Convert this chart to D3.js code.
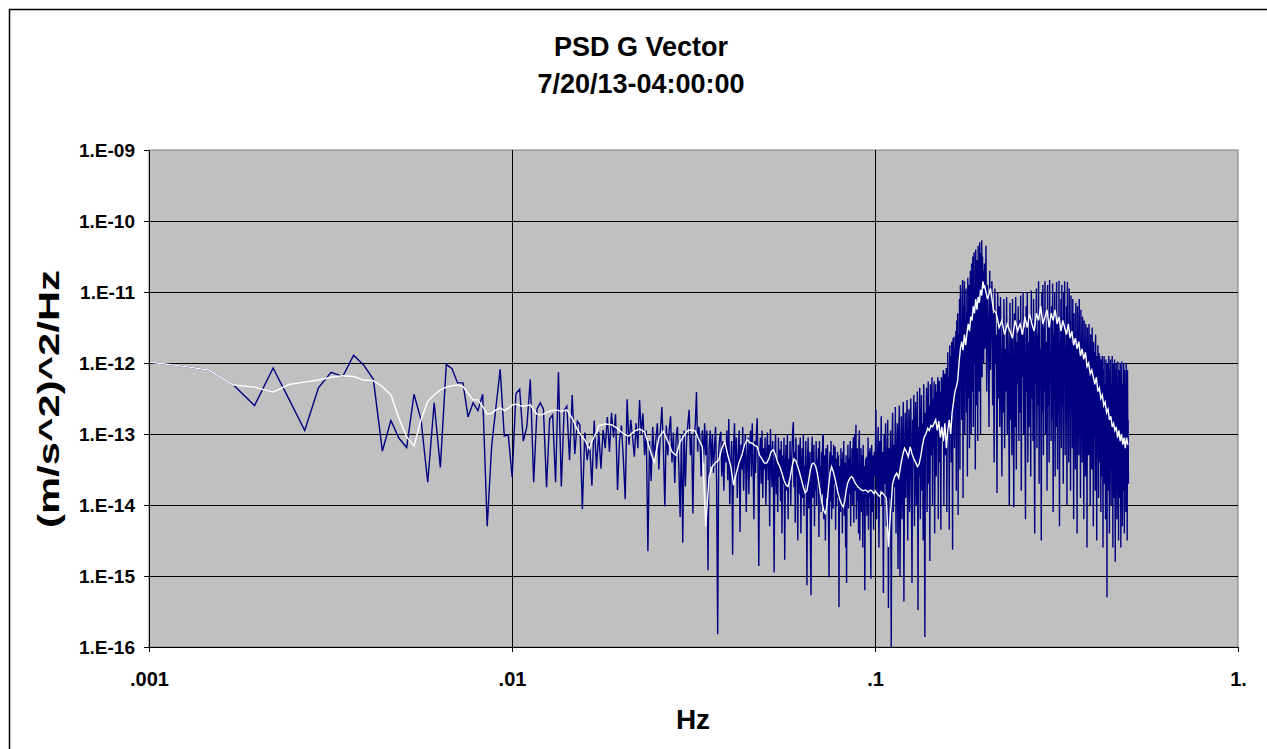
<!DOCTYPE html>
<html>
<head>
<meta charset="utf-8">
<script src="https://cdn.jsdelivr.net/npm/d3@7"></script>
<style>
  body { margin: 0; background: #fff; }
  text { font-family: "Liberation Sans", Arial, sans-serif; font-weight: bold; fill: #000; }
</style>
</head>
<body>
<div class="chart"></div>
<script>
// FFT bin width in Hz, every series below is log10 of the PSD at bin k
const binHz = 1 / 4096;

// blue = raw PSD
const blueA = [ // k = 4..70
  -11.98,-12.04,-12.10,-12.31,-12.60,-12.07,-12.53,-12.95,-12.35,-12.13,
  -12.19,-11.89,-12.03,-12.23,-13.24,-12.81,-13.06,-13.19,-12.44,-12.80,
  -13.68,-12.56,-13.47,-12.02,-12.08,-12.28,-12.28,-12.76,-12.56,-12.67,
  -12.44,-14.30,-13.17,-12.62,-12.09,-13.03,-13.01,-13.61,-12.43,-12.37,
  -13.10,-12.90,-12.23,-13.68,-12.65,-12.56,-12.65,-13.75,-12.79,-12.73,
  -13.68,-12.13,-13.74,-12.67,-12.61,-13.37,-12.45,-13.28,-12.82,-12.87,
  -14.06,-12.98,-13.37,-13.13,-13.73,-12.81,-13.49];
const blueB = [ // k = 71..163
  -12.97,-13.49,-12.94,-13.20,-12.76,-13.25,-12.70,-13.05,-12.72,-13.79,
  -13.10,-12.88,-13.35,-13.92,-12.51,-13.15,-12.80,-13.05,-13.32,-12.85,
  -13.20,-12.52,-13.00,-12.71,-13.30,-12.95,-14.65,-13.10,-13.66,-12.90,
  -13.35,-13.08,-12.85,-13.50,-12.95,-12.62,-13.20,-14.02,-12.88,-13.30,
  -12.95,-12.75,-13.40,-12.98,-13.69,-13.05,-12.90,-13.45,-14.17,-13.00,
  -14.53,-12.95,-13.74,-13.10,-12.85,-12.66,-13.30,-13.00,-14.12,-13.05,
  -12.87,-12.41,-13.25,-12.90,-13.08,-13.60,-12.95,-13.41,-12.85,-13.30,
  -12.95,-14.92,-13.20,-12.95,-13.46,-13.00,-13.55,-13.18,-12.90,-13.70,
  -15.82,-13.25,-13.05,-12.97,-13.60,-13.10,-13.80,-13.11,-13.40,-12.95,
  -13.65,-12.79,-13.99];
const blueC = [ // k = 164..408
  -13.40,-13.10,-14.70,-13.20,-12.85,-13.60,-13.05,-13.90,-13.30,-12.95,
  -14.38,-13.15,-13.50,-12.90,-13.80,-13.25,-13.00,-14.10,-13.35,-13.05,
  -13.85,-13.20,-12.95,-13.60,-12.85,-13.40,-14.20,-13.10,-13.55,-13.00,
  -12.78,-13.45,-14.86,-13.30,-13.05,-13.70,-12.95,-13.90,-13.20,-13.50,
  -13.05,-14.00,-13.30,-12.98,-13.65,-13.15,-14.30,-12.93,-13.40,-13.75,
  -13.10,-13.55,-14.95,-13.25,-13.00,-13.85,-13.35,-14.10,-13.05,-13.60,
  -13.22,-13.95,-13.10,-14.40,-13.30,-13.70,-13.05,-14.77,-13.45,-13.15,
  -13.80,-13.00,-14.20,-13.35,-13.65,-13.10,-14.00,-13.50,-13.20,-12.95,
  -12.83,-13.75,-13.25,-14.25,-13.05,-13.60,-13.40,-14.50,-13.15,-13.85,
  -13.30,-13.05,-14.40,-13.55,-13.20,-13.90,-13.00,-14.15,-13.45,-13.70,
  -13.10,-13.80,-15.13,-13.35,-13.05,-14.05,-13.50,-13.25,-14.60,-15.27,
  -13.30,-13.04,-13.90,-13.55,-13.15,-14.30,-13.40,-13.80,-13.10,-14.00,
  -13.35,-13.70,-13.20,-14.45,-13.10,-13.65,-13.45,-14.10,-13.25,-13.85,
  -13.05,-13.00,-14.20,-13.50,-13.30,-14.50,-13.20,-13.90,-13.60,-13.15,
  -13.75,-14.25,-15.02,-13.40,-13.25,-13.95,-13.10,-14.20,-13.55,-13.30,
  -14.05,-13.15,-13.70,-13.45,-13.18,-14.35,-13.35,-14.00,-13.50,-13.25,
  -13.90,-13.30,-15.44,-13.60,-13.45,-14.10,-13.20,-13.75,-13.35,-14.40,
  -13.25,-13.80,-13.10,-14.15,-13.40,-13.60,-14.60,-13.30,-15.10,-13.55,
  -13.60,-13.15,-14.05,-13.35,-13.85,-13.40,-13.10,-14.30,-13.50,-13.70,
  -13.20,-14.00,-13.45,-13.05,-14.25,-13.60,-13.00,-13.80,-13.30,-12.87,
  -14.20,-13.45,-13.20,-13.95,-13.55,-14.40,-13.10,-12.95,-14.50,-13.40,
  -13.85,-13.20,-14.10,-13.60,-13.30,-14.60,-13.15,-13.75,-13.45,-14.05,
  -15.20,-13.60,-13.35,-13.90,-13.32,-14.15,-13.40,-13.70,-13.05,-14.35,
  -13.25,-13.90,-13.50,-13.20,-14.20,-15.04,-13.55,-13.15,-13.70,-14.10,
  -13.30,-13.60,-14.35,-13.45,-13.25];
const blueD = [ // k = 410..818, every 2nd bin
  -13.60,-12.66,-14.20,-13.40,-12.90,-14.60,-13.10,-13.80,-12.75,-14.00,
  -13.25,-15.24,-13.00,-13.70,-12.85,-14.30,-13.45,-12.80,-15.45,-13.20,
  -13.90,-12.95,-16.00,-13.35,-12.70,-14.10,-13.15,-13.75,-12.62,-14.40,
  -13.30,-12.85,-14.90,-13.05,-12.60,-15.00,-13.50,-12.75,-14.20,-13.10,
  -12.55,-15.36,-13.40,-12.70,-13.90,-13.00,-12.52,-14.50,-13.25,-12.65,
  -14.10,-13.05,-12.50,-13.80,-15.10,-12.80,-13.35,-12.45,-14.30,-13.00,
  -12.55,-14.00,-13.20,-12.40,-15.48,-12.90,-13.60,-12.35,-14.20,-13.10,
  -12.45,-13.80,-12.85,-14.50,-12.30,-13.40,-15.86,-12.70,-13.20,-12.35,
  -14.10,-12.95,-12.26,-13.70,-12.60,-14.79,-12.30,-13.30,-12.75,-12.20,
  -14.00,-12.50,-13.20,-12.26,-14.40,-12.85,-12.30,-13.60,-12.40,-13.00,
  -12.20,-14.20,-12.55,-12.25,-13.40,-12.40,-14.35,-12.20,-12.80,-13.10,
  -12.25,-12.10,-14.00,-12.40,-12.15,-13.30,-12.30,-12.07,-14.10,-12.50,
  -11.85,-13.00,-12.20,-14.35,-11.75,-12.70,-11.90,-13.40,-11.70,-12.30,
  -14.63,-11.65,-12.60,-11.63,-13.20,-11.80,-12.10,-11.55,-13.80,-11.40,
  -12.40,-11.30,-14.14,-11.60,-12.20,-11.10,-13.50,-10.90,-12.00,-11.40,
  -12.80,-11.05,-10.83,-13.90,-11.20,-12.30,-10.85,-13.00,-11.50,-12.10,
  -10.95,-12.70,-11.30,-13.60,-10.80,-11.90,-12.50,-10.90,-13.20,-11.15,
  -10.70,-11.80,-13.00,-10.60,-12.40,-11.20,-10.50,-12.90,-11.00,-10.44,
  -12.00,-11.40,-13.50,-10.40,-11.80,-12.60,-10.55,-11.20,-13.10,-10.35,
  -11.90,-10.60,-12.40,-10.30,-11.50,-13.00,-10.45,-11.70,-10.27,-12.20,
  -10.50,-11.30,-10.70,-12.00,-10.90];
const blueE = [ // k = 820..2044, every 4th bin
  -10.60,-11.80,-10.35,-12.40,-10.90,-11.50,-12.90,-10.70,-12.10,-11.20,
  -10.85,-12.60,-11.30,-13.40,-10.95,-12.00,-11.60,-13.83,-11.00,-12.50,
  -11.20,-12.90,-11.07,-12.30,-13.60,-11.40,-12.70,-11.10,-13.20,-11.80,
  -12.40,-11.07,-13.00,-11.50,-12.20,-14.00,-11.15,-12.80,-11.60,-13.30,
  -11.10,-12.50,-14.03,-11.30,-12.90,-11.07,-13.50,-11.70,-12.30,-11.20,
  -13.10,-11.40,-12.70,-11.05,-13.80,-11.60,-12.20,-11.00,-13.00,-11.50,
  -12.60,-14.20,-11.20,-12.40,-11.00,-13.40,-11.70,-12.90,-11.30,-12.10,
  -13.60,-10.98,-12.50,-11.40,-13.10,-11.10,-12.80,-14.40,-11.50,-12.30,
  -10.95,-13.20,-11.60,-12.60,-10.85,-13.70,-11.30,-12.20,-11.80,-14.50,
  -11.00,-12.70,-10.90,-13.30,-11.50,-12.40,-10.85,-13.00,-11.70,-12.10,
  -13.80,-10.90,-12.60,-11.40,-13.40,-10.83,-12.20,-11.90,-13.10,-11.20,
  -12.80,-10.88,-14.10,-11.60,-12.50,-11.00,-13.60,-11.30,-12.90,-10.86,
  -12.30,-13.50,-11.40,-12.70,-10.84,-14.30,-11.70,-12.40,-11.10,-13.20,
  -10.90,-12.60,-11.50,-13.70,-11.00,-12.10,-10.85,-13.30,-11.80,-12.80,
  -11.20,-14.00,-10.86,-12.50,-11.60,-13.40,-10.95,-12.20,-11.40,-13.80,
  -11.05,-12.70,-11.70,-13.20,-11.10,-12.40,-14.20,-11.30,-12.90,-11.60,
  -13.50,-11.15,-12.30,-11.90,-14.40,-11.20,-12.80,-11.50,-13.30,-11.10,
  -12.60,-11.80,-13.90,-11.25,-12.40,-11.60,-13.40,-11.35,-12.90,-11.70,
  -14.20,-11.40,-12.70,-11.90,-13.60,-11.45,-12.50,-11.70,-14.60,-11.50,
  -12.90,-11.80,-13.30,-11.45,-12.60,-12.00,-14.00,-11.60,-12.80,-11.90,
  -13.50,-11.50,-12.70,-12.10,-14.30,-11.70,-13.00,-11.85,-12.50,-13.80,
  -11.60,-12.90,-11.90,-14.50,-12.20,-13.20,-11.75,-12.70,-13.90,-11.86,
  -12.60,-11.90,-13.40,-12.20,-14.10,-11.95,-12.80,-13.60,-11.90,-12.40,
  -14.60,-12.10,-13.00,-11.90,-13.70,-12.30,-12.80,-14.20,-11.95,-13.30,
  -12.20,-15.30,-12.00,-13.10,-12.50,-13.80,-11.90,-12.70,-14.40,-12.10,
  -13.20,-11.95,-12.90,-14.00,-12.30,-13.50,-11.90,-12.60,-14.60,-12.00,
  -13.30,-12.20,-13.90,-11.95,-12.80,-14.80,-12.10,-13.40,-12.00,-12.70,
  -14.20,-12.30,-13.60,-11.98,-12.90,-14.50,-12.10,-13.20,-12.40,-13.90,
  -12.00,-12.80,-14.60,-12.20,-13.40,-11.98,-13.00,-14.30,-12.30,-12.70,
  -13.80,-12.00,-13.20,-14.40,-12.10,-12.90,-13.60,-12.40,-14.10,-12.00,
  -13.30,-12.60,-14.50,-12.10,-13.00,-12.80,-13.70];

// white = smoothed PSD
const whiteA = [ // k = 4..70
  -11.98,-12.04,-12.10,-12.31,-12.34,-12.41,-12.30,-12.27,-12.24,-12.20,
  -12.18,-12.19,-12.24,-12.25,-12.33,-12.45,-12.78,-13.04,-13.17,-12.80,
  -12.54,-12.45,-12.38,-12.34,-12.32,-12.31,-12.33,-12.43,-12.52,-12.52,
  -12.61,-12.72,-12.71,-12.66,-12.63,-12.67,-12.64,-12.59,-12.58,-12.60,
  -12.61,-12.60,-12.59,-12.66,-12.72,-12.73,-12.72,-12.70,-12.68,-12.67,
  -12.66,-12.67,-12.68,-12.67,-12.66,-12.72,-12.78,-12.86,-12.94,-12.99,
  -13.04,-13.08,-13.15,-13.21,-13.10,-13.04,-12.97];
const whiteB = [ // k = 71..407, every 3rd bin
  -12.88,-12.86,-12.87,-12.92,-13.00,-13.03,-12.96,-12.93,-12.97,-13.20,
  -13.40,-13.05,-12.96,-13.10,-13.25,-13.30,-13.11,-13.02,-12.95,-12.94,
  -12.96,-13.08,-13.18,-14.30,-13.60,-13.46,-13.40,-13.37,-13.20,-13.11,
  -13.30,-13.45,-13.72,-13.55,-13.40,-13.30,-13.15,-13.08,-13.12,-13.13,
  -13.16,-13.18,-13.30,
  -13.35,-13.41,-13.41,-13.35,-13.25,-13.22,-13.30,-13.40,-13.46,-13.55,
  -13.65,-13.72,-13.74,-13.62,-13.46,-13.35,-13.38,-13.46,-13.55,-13.65,
  -13.75,-13.83,-13.80,-13.65,-13.50,-13.42,-13.41,-13.45,-13.55,-13.70,
  -13.85,-13.98,-14.08,-14.12,-14.00,-13.75,-13.55,-13.46,-13.52,-13.60,
  -13.70,-13.80,-13.88,-13.95,-14.00,-14.03,-13.95,-13.80,-13.70,-13.65,
  -13.62,-13.60,-13.62,-13.66,-13.70,-13.72,-13.75,-13.76,-13.78,-13.79,
  -13.80,-13.79,-13.79,-13.80,-13.82,-13.80,-13.79,-13.80,-13.82,-13.84];
const whiteC = [ // k = 410..818, every 6th bin
  -13.80,-13.85,-13.88,-13.82,-13.86,-13.90,-14.59,-14.10,-13.70,-13.60,
  -13.55,-13.62,-13.45,-13.30,-13.20,-13.25,-13.32,-13.18,-13.28,-13.35,
  -13.40,-13.46,-13.42,-13.30,-13.15,-13.04,-13.00,-12.92,-12.95,-12.88,
  -12.90,-12.85,-12.80,-12.95,-12.82,-13.05,-12.90,-13.10,-12.85,-13.20,
  -12.95,-12.80,-13.00,-12.70,-12.55,-12.40,-12.34,-12.25,-12.00,-11.80,
  -11.70,-11.82,-11.60,-11.75,-11.58,-11.45,-11.55,-11.35,-11.40,-11.20,
  -11.30,-11.10,-11.25,-11.07,-11.15,-10.97,-11.05,-10.85,-10.95];
const whiteD = [ // k = 820..2036, every 16th bin
  -10.90,-11.10,-10.95,-11.25,-11.30,-11.50,-11.40,-11.60,-11.45,-11.55,
  -11.65,-11.40,-11.55,-11.45,-11.60,-11.35,-11.50,-11.30,-11.45,-11.55,
  -11.30,-11.40,-11.20,-11.45,-11.35,-11.25,-11.50,-11.30,-11.40,-11.25,
  -11.45,-11.35,-11.55,-11.40,-11.50,-11.60,-11.45,-11.65,-11.55,-11.75,
  -11.65,-11.80,-11.70,-11.90,-11.80,-11.95,-11.85,-12.05,-12.00,-12.15,
  -12.10,-12.20,-12.30,-12.20,-12.40,-12.35,-12.50,-12.45,-12.60,-12.55,
  -12.70,-12.65,-12.80,-12.75,-12.90,-12.85,-12.95,-12.90,-13.05,-12.95,
  -13.10,-13.00,-13.15,-13.05,-13.20,-13.05,-13.15];

const xTicks = [0.001, 0.01, 0.1, 1];
const xTickLabels = ['.001', '.01', '.1', '1.'];
const yTicks = [1e-9, 1e-10, 1e-11, 1e-12, 1e-13, 1e-14, 1e-15, 1e-16];
const yTickLabels = ['1.E-09','1.E-10','1.E-11','1.E-12','1.E-13','1.E-14','1.E-15','1.E-16'];

// turn a block of values into {f, p} points
function block(vals, k0, step) {
  return vals.map((v, i) => ({f: (k0 + i * step) * binHz, p: Math.pow(10, v)}));
}
const blue = [].concat(block(blueA, 4, 1), block(blueB, 71, 1), block(blueC, 164, 1),
  block(blueD, 410, 2), block(blueE, 820, 4));
const white = [].concat(block(whiteA, 4, 1), block(whiteB, 71, 3), block(whiteC, 410, 6),
  block(whiteD, 820, 16));

const W = 1267, H = 749;
var margin = ({top: 150, right: 29, bottom: 102, left: 149});
const width = W - margin.left - margin.right;
const height = H - margin.top - margin.bottom;

const svg = d3.select('.chart')
  .append('svg')
  .attr('width', W)
  .attr('height', H);

svg.append('rect')
  .attr('x', 9.5).attr('y', 9.5)
  .attr('width', W).attr('height', H)
  .attr('fill', '#fff')
  .attr('stroke', '#000').attr('stroke-width', 1.5);

const g = svg.append('g')
  .attr('transform', `translate(${margin.left},${margin.top})`);

const x = d3.scaleLog().domain([0.001, 1]).range([0, width]);
const y = d3.scaleLog().domain([1e-16, 1e-9]).range([height, 0]);

g.append('rect')
  .attr('width', width).attr('height', height)
  .attr('fill', '#c0c0c0')
  .attr('stroke', '#808080');

// gridlines
g.selectAll('.hgrid').data(yTicks.slice(1, -1)).enter()
  .append('line')
  .attr('x1', 0).attr('x2', width)
  .attr('y1', d => Math.round(y(d)) + 0.5).attr('y2', d => Math.round(y(d)) + 0.5)
  .attr('stroke', '#000');
g.selectAll('.vgrid').data(xTicks.slice(1, -1)).enter()
  .append('line')
  .attr('y1', 0).attr('y2', height)
  .attr('x1', d => Math.round(x(d)) + 0.5).attr('x2', d => Math.round(x(d)) + 0.5)
  .attr('stroke', '#000');

g.append('clipPath').attr('id', 'plotclip')
  .append('rect').attr('width', width).attr('height', height);

const line = d3.line()
  .x(d => x(d.f))
  .y(d => y(d.p));

const plot = g.append('g').attr('clip-path', 'url(#plotclip)');
plot.append('path')
  .datum(blue)
  .attr('d', line)
  .attr('fill', 'none')
  .attr('stroke', '#000080')
  .attr('stroke-width', 1.4);
plot.append('path')
  .datum(white)
  .attr('d', line)
  .attr('fill', 'none')
  .attr('stroke', '#ffffff')
  .attr('stroke-width', 1.4);

// axes
const xAxis = d3.axisBottom(x)
  .tickValues(xTicks)
  .tickFormat((d, i) => xTickLabels[i])
  .tickSize(5).tickSizeOuter(0).tickPadding(20);
const yAxis = d3.axisLeft(y)
  .tickValues(yTicks)
  .tickFormat((d, i) => yTickLabels[i])
  .tickSize(5).tickSizeOuter(0).tickPadding(9);

g.append('g')
  .attr('class', 'x-axis')
  .attr('transform', `translate(0,${height})`)
  .call(xAxis);
g.append('g')
  .attr('class', 'y-axis')
  .call(yAxis);

g.selectAll('.x-axis text').style('font-size', '20px');
g.selectAll('.y-axis text').style('font-size', '19px');
g.selectAll('.domain, .tick line').attr('stroke', '#000');

// titles
svg.append('text')
  .attr('x', 641).attr('y', 56)
  .attr('text-anchor', 'middle')
  .style('font-size', '27px')
  .text('PSD G Vector');
svg.append('text')
  .attr('x', 641).attr('y', 93)
  .attr('text-anchor', 'middle')
  .style('font-size', '27px')
  .text('7/20/13-04:00:00');
svg.append('text')
  .attr('x', 693).attr('y', 729)
  .attr('text-anchor', 'middle')
  .style('font-size', '28px')
  .text('Hz');
svg.append('text')
  .attr('transform', 'translate(59,399) rotate(-90)')
  .attr('text-anchor', 'middle')
  .attr('textLength', 258)
  .attr('lengthAdjust', 'spacingAndGlyphs')
  .style('font-size', '30px')
  .text('(m/s^2)^2/Hz');
</script>
</body>
</html>
